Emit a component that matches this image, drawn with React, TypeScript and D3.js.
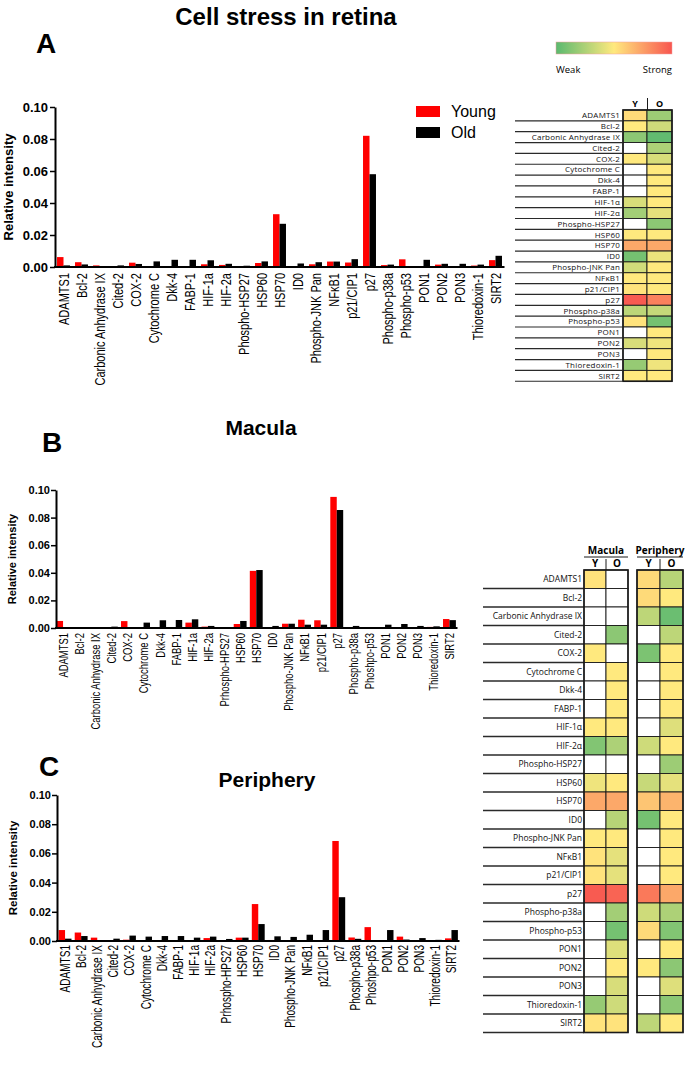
import { useEffect, useRef } from 'react';
import * as d3 from 'd3';

const FONT = 'Liberation Sans, Arial, sans-serif';
const CELL_FONT = 'Open Sans, Noto Sans, sans-serif';

// bar chart categories
const labelsA = ['ADAMTS1', 'Bcl-2', 'Carbonic Anhydrase IX', 'Cited-2', 'COX-2', 'Cytochrome C', 'Dkk-4', 'FABP-1', 'HIF-1a', 'HIF-2a', 'Phospho-HSP27', 'HSP60', 'HSP70', 'ID0', 'Phospho-JNK Pan', 'NFκB1', 'p21/CIP1', 'p27', 'Phospho-p38a', 'Phospho-p53', 'PON1', 'PON2', 'PON3', 'Thioredoxin-1', 'SIRT2'];
const labelsBC = ['ADAMTS1', 'Bcl-2', 'Carbonic Anhydrase IX', 'Cited-2', 'COX-2', 'Cytochrome C', 'Dkk-4', 'FABP-1', 'HIF-1a', 'HIF-2a', 'Prhospho-HPS27', 'HSP60', 'HSP70', 'ID0', 'Phospho-JNK Pan', 'NFκB1', 'p21/CIP1', 'p27', 'Phospho-p38a', 'Phoshpo-p53', 'PON1', 'PON2', 'PON3', 'Thioredoxin-1', 'SIRT2'];

// relative intensity, whole retina
const youngA = [0.0062, 0.003, 0.001, 0, 0.0027, 0, 0, 0, 0.0017, 0.0013, 0, 0.0025, 0.033, 0, 0.0017, 0.0034, 0.0028, 0.082, 0.0012, 0.0048, 0, 0.0015, 0, 0.0009, 0.0043];
const oldA = [0.001, 0.0016, 0, 0.001, 0.0019, 0.0035, 0.0045, 0.0045, 0.0042, 0.002, 0.0008, 0.0035, 0.027, 0.0022, 0.003, 0.0034, 0.0049, 0.058, 0.0015, 0.0005, 0.0045, 0.002, 0.002, 0.0015, 0.007];
// macula
const youngB = [0.0051, 0, 0, 0, 0.005, 0, 0, 0, 0.0039, 0.001, 0, 0.0029, 0.0414, 0, 0.0031, 0.006, 0.0056, 0.095, 0, 0, 0, 0, 0, 0.0008, 0.0065];
const oldB = [0, 0, 0, 0.001, 0, 0.0039, 0.0056, 0.0058, 0.0063, 0.0015, 0, 0.0051, 0.042, 0.0015, 0.0031, 0.0024, 0.0024, 0.0855, 0.0015, 0, 0.0024, 0.0029, 0.0015, 0.0012, 0.0057];
// periphery
const youngC = [0.0075, 0.0058, 0.0023, 0, 0.0009, 0, 0, 0, 0, 0.002, 0, 0.0023, 0.0253, 0.0007, 0, 0, 0, 0.0685, 0.0024, 0.0095, 0, 0.003, 0, 0, 0.0018];
const oldC = [0.0016, 0.0034, 0, 0.0016, 0.0037, 0.003, 0.0034, 0.0034, 0.0023, 0.003, 0.0014, 0.0023, 0.0116, 0.0032, 0.0028, 0.0043, 0.0075, 0.03, 0.0015, 0.0005, 0.0075, 0.001, 0.002, 0.0008, 0.0075];

const yTicks = [0, 0.02, 0.04, 0.06, 0.08, 0.1];

// heatmap rows, values 0 = weak, 0.5 = mid, 1 = strong, null = no signal
const heatRows = ['ADAMTS1', 'Bcl-2', 'Carbonic Anhydrase IX', 'Cited-2', 'COX-2', 'Cytochrome C', 'Dkk-4', 'FABP-1', 'HIF-1α', 'HIF-2α', 'Phospho-HSP27', 'HSP60', 'HSP70', 'ID0', 'Phospho-JNK Pan', 'NFκB1', 'p21/CIP1', 'p27', 'Phospho-p38a', 'Phospho-p53', 'PON1', 'PON2', 'PON3', 'Thioredoxin-1', 'SIRT2'];
const heatA_Y = [0.55, 0.5, 0.15, null, 0.5, null, null, null, 0.38, 0.22, null, 0.5, 0.72, 0.08, 0.36, 0.5, 0.52, 0.98, 0.3, 0.52, null, 0.38, null, 0.18, 0.5];
const heatA_O = [0.2, 0.35, 0.02, 0.25, 0.38, 0.5, 0.5, 0.5, 0.5, 0.42, 0.15, 0.5, 0.72, 0.44, 0.5, 0.5, 0.5, 0.85, 0.32, 0.08, 0.5, 0.45, 0.5, 0.45, 0.5];
const heatB_MY = [0.52, null, null, null, 0.5, null, null, null, 0.5, 0.12, null, 0.45, 0.72, null, 0.5, 0.52, 0.52, 0.98, null, null, null, null, null, 0.18, 0.52];
const heatB_MO = [null, null, null, 0.15, null, 0.5, 0.5, 0.5, 0.5, 0.25, null, 0.5, 0.72, 0.28, 0.5, 0.42, 0.42, 0.95, 0.22, 0.08, 0.4, 0.5, 0.38, 0.35, 0.52];
const heatB_PY = [0.55, 0.55, 0.3, null, 0.1, null, null, null, null, 0.35, null, 0.33, 0.62, 0.08, null, null, null, 0.88, 0.35, 0.55, null, 0.5, null, null, 0.3];
const heatB_PO = [0.28, 0.5, 0.05, 0.3, 0.5, 0.5, 0.5, 0.5, 0.4, 0.5, 0.2, 0.42, 0.68, 0.5, 0.5, 0.5, 0.5, 0.72, 0.25, 0.12, 0.5, 0.15, 0.4, 0.15, 0.5];

const heatColor = d3.scaleLinear<string>()
  .domain([0, 0.5, 1])
  .range(['#5bb96f', '#ffe97e', '#f8554f']);

function drawBars(root: any, c: any) {
  const g = root.append('g');
  const x = d3.scaleBand().domain(c.labels).range([c.x0, c.x1])
    .paddingInner(c.pad).paddingOuter(c.pad / 2);
  const sub = d3.scaleBand().domain(['young', 'old']).range([0, x.bandwidth()]);
  const y = d3.scaleLinear().domain([0, 0.1]).range([c.yBottom, c.yTop]);

  const rows = c.labels.flatMap((lab: string, i: number) => [
    { lab, key: 'young', v: c.young[i], color: '#ff0000' },
    { lab, key: 'old', v: c.old[i], color: '#000000' }
  ]).filter((d: any) => d.v > 0);

  g.selectAll('.bar')
    .data(rows)
    .enter()
    .append('rect')
    .attr('x', (d: any) => x(d.lab)! + sub(d.key)!)
    .attr('y', (d: any) => y(d.v))
    .attr('width', sub.bandwidth())
    .attr('height', (d: any) => y(0) - y(d.v))
    .attr('fill', (d: any) => d.color);

  // y axis
  const ax = g.append('g')
    .attr('transform', `translate(${c.axisX},0)`)
    .call(d3.axisLeft(y).tickValues(yTicks).tickFormat(d3.format('.2f')).tickSize(5).tickSizeOuter(0));
  ax.select('.domain').attr('stroke-width', 2);
  ax.selectAll('.tick line').attr('stroke-width', 1.5);
  ax.selectAll('.tick text')
    .attr('x', -c.tickGap)
    .style('font-family', FONT)
    .style('font-weight', 'bold')
    .style('font-size', `${c.tickFont}px`)
    .attr('fill', '#000');

  // x axis line
  g.append('line')
    .attr('x1', c.axisX - 1)
    .attr('x2', c.x1)
    .attr('y1', y(0))
    .attr('y2', y(0))
    .attr('stroke', '#000')
    .attr('stroke-width', 2);

  // category labels, narrow like the source figure
  g.selectAll('.xl')
    .data(c.labels)
    .enter()
    .append('text')
    .attr('transform', (d: any) => `translate(${x(d)! + x.bandwidth() / 2 + c.labelFont * 0.36},${y(0) + c.labelGap}) rotate(-90) scale(${c.squeeze},1)`)
    .attr('text-anchor', 'end')
    .style('font-family', FONT)
    .style('font-size', `${c.labelFont}px`)
    .attr('fill', '#000')
    .text((d: any) => d);

  // y label
  g.append('text')
    .attr('transform', `translate(${c.yLabelX},${(c.yTop + c.yBottom) / 2}) rotate(-90)`)
    .attr('text-anchor', 'middle')
    .style('font-family', FONT)
    .style('font-weight', 'bold')
    .style('font-size', `${c.yLabelFont}px`)
    .text('Relative intensity');
}

function drawHeat(root: any, c: any) {
  const g = root.append('g');
  const n = heatRows.length;
  const y = d3.scaleBand().domain(heatRows).range([c.top, c.top + n * c.rowH]);

  // row separator lines
  g.selectAll('.rl')
    .data(heatRows)
    .enter()
    .append('line')
    .attr('x1', c.lineLeft)
    .attr('x2', c.labelRight + 2)
    .attr('y1', (d: any) => y(d)! + c.rowH)
    .attr('y2', (d: any) => y(d)! + c.rowH)
    .attr('stroke', '#2a2a2a')
    .attr('stroke-width', c.lineW);

  g.selectAll('.rt')
    .data(heatRows)
    .enter()
    .append('text')
    .attr('x', c.labelRight)
    .attr('y', (d: any) => y(d)! + c.rowH / 2)
    .attr('dy', '0.35em')
    .attr('text-anchor', 'end')
    .style('font-family', CELL_FONT)
    .style('font-size', `${c.font}px`)
    .style('letter-spacing', `${c.spacing}px`)
    .attr('fill', '#111')
    .text((d: any) => d);

  c.cols.forEach((col: any) => {
    g.selectAll(null)
      .data(heatRows)
      .enter()
      .append('rect')
      .attr('x', col.x)
      .attr('y', (d: any) => y(d)!)
      .attr('width', col.w)
      .attr('height', c.rowH)
      .attr('fill', (_: any, i: number) => col.values[i] == null ? '#ffffff' : heatColor(col.values[i]))
      .attr('stroke', '#1a1a1a')
      .attr('stroke-width', 0.9);

    g.append('text')
      .attr('x', col.x + col.w / 2)
      .attr('y', c.top - c.headGap)
      .attr('text-anchor', 'middle')
      .style('font-family', CELL_FONT)
      .style('font-weight', 'bold')
      .style('font-size', `${c.headFont}px`)
      .text(col.head);
  });

  c.blocks.forEach((b: any) => {
    g.append('rect')
      .attr('x', b.x)
      .attr('y', c.top)
      .attr('width', b.w)
      .attr('height', n * c.rowH)
      .attr('fill', 'none')
      .attr('stroke', '#1a1a1a')
      .attr('stroke-width', 1.6);
    g.append('line')
      .attr('x1', b.x + b.w / 2)
      .attr('x2', b.x + b.w / 2)
      .attr('y1', c.top - c.divH)
      .attr('y2', c.top)
      .attr('stroke', '#1a1a1a')
      .attr('stroke-width', 1);
    if (b.title) {
      g.append('text')
        .attr('x', b.x + b.w / 2)
        .attr('y', b.titleY)
        .attr('text-anchor', 'middle')
        .style('font-family', CELL_FONT)
        .style('font-weight', 'bold')
        .style('font-size', '10px')
        .text(b.title);
      g.append('line')
        .attr('x1', b.x)
        .attr('x2', b.x + b.w)
        .attr('y1', b.titleY + 3)
        .attr('y2', b.titleY + 3)
        .attr('stroke', '#1a1a1a')
        .attr('stroke-width', 1);
    }
  });
}

export default function App() {
  const svgRef = useRef<SVGSVGElement | null>(null);

  useEffect(() => {
    if (!svgRef.current) return;
    const svg = d3.select(svgRef.current);
    svg.selectAll('*').remove();

    svg.append('rect').attr('width', 685).attr('height', 1068).attr('fill', '#fff');

    // title and panel letters
    svg.append('text')
      .attr('x', 286).attr('y', 25)
      .attr('text-anchor', 'middle')
      .style('font-family', FONT).style('font-weight', 'bold').style('font-size', '24px')
      .text('Cell stress in retina');

    [['A', 36, 53], ['B', 42, 452], ['C', 39, 776]].forEach(([t, x, y]) => {
      svg.append('text')
        .attr('x', x as number).attr('y', y as number)
        .style('font-family', FONT).style('font-weight', 'bold').style('font-size', '28px')
        .text(t as string);
    });

    [['Macula', 261, 435], ['Periphery', 267, 787]].forEach(([t, x, y]) => {
      svg.append('text')
        .attr('x', x as number).attr('y', y as number)
        .attr('text-anchor', 'middle')
        .style('font-family', FONT).style('font-weight', 'bold').style('font-size', '21px')
        .text(t as string);
    });

    drawBars(svg, {
      labels: labelsA, young: youngA, old: oldA,
      x0: 54.5, x1: 504.5, axisX: 55, yTop: 107, yBottom: 267, pad: 0.28,
      tickFont: 13, tickGap: 7, labelFont: 15.5, labelGap: 6, squeeze: 0.71,
      yLabelX: 13, yLabelFont: 13
    });
    drawBars(svg, {
      labels: labelsBC, young: youngB, old: oldB,
      x0: 55, x1: 457.5, axisX: 56, yTop: 490, yBottom: 628, pad: 0.2,
      tickFont: 11, tickGap: 6, labelFont: 13.5, labelGap: 5, squeeze: 0.7,
      yLabelX: 16, yLabelFont: 11
    });
    drawBars(svg, {
      labels: labelsBC, young: youngC, old: oldC,
      x0: 57, x1: 459.5, axisX: 57, yTop: 795, yBottom: 941, pad: 0.2,
      tickFont: 11, tickGap: 6, labelFont: 14, labelGap: 4, squeeze: 0.72,
      yLabelX: 17, yLabelFont: 11.5
    });

    // legend for panel A
    const leg = svg.append('g');
    [['Young', '#ff0000', 106], ['Old', '#000000', 127]].forEach(([t, col, y]) => {
      leg.append('rect').attr('x', 416).attr('y', y as number).attr('width', 24).attr('height', 11).attr('fill', col as string);
      leg.append('text').attr('x', 451).attr('y', (y as number) + 11)
        .style('font-family', FONT).style('font-size', '16px').text(t as string);
    });

    // colour key
    const defs = svg.append('defs');
    const grad = defs.append('linearGradient').attr('id', 'key');
    heatColor.domain().forEach((v) => {
      grad.append('stop').attr('offset', `${v * 100}%`).attr('stop-color', heatColor(v));
    });
    svg.append('rect').attr('x', 556).attr('y', 42).attr('width', 116).attr('height', 12)
      .attr('fill', 'url(#key)').attr('stroke', '#f3a0a0').attr('stroke-width', 0.5);
    svg.append('text').attr('x', 556).attr('y', 73)
      .style('font-family', CELL_FONT).style('font-size', '9.5px').text('Weak');
    svg.append('text').attr('x', 672).attr('y', 73).attr('text-anchor', 'end')
      .style('font-family', CELL_FONT).style('font-size', '9.5px').text('Strong');

    drawHeat(svg, {
      top: 110, rowH: 10.85, labelRight: 620, lineLeft: 515, lineW: 1.2,
      font: 8, spacing: 0.2, headFont: 9, headGap: 3, divH: 12,
      cols: [
        { x: 623, w: 24, values: heatA_Y, head: 'Y' },
        { x: 647, w: 25, values: heatA_O, head: 'O' }
      ],
      blocks: [{ x: 623, w: 49 }]
    });

    drawHeat(svg, {
      top: 570, rowH: 18.5, labelRight: 582, lineLeft: 483, lineW: 1.5,
      font: 8.5, spacing: 0, headFont: 10, headGap: 3, divH: 11,
      cols: [
        { x: 584, w: 22, values: heatB_MY, head: 'Y' },
        { x: 606, w: 22, values: heatB_MO, head: 'O' },
        { x: 637, w: 23, values: heatB_PY, head: 'Y' },
        { x: 660, w: 23, values: heatB_PO, head: 'O' }
      ],
      blocks: [
        { x: 584, w: 44, title: 'Macula', titleY: 554 },
        { x: 637, w: 46, title: 'Periphery', titleY: 554 }
      ]
    });
  }, []);

  return (
    <svg
      ref={svgRef}
      width={685}
      height={1068}
      style={{ position: 'absolute', left: 0, top: 0 }}
    />
  );
}
